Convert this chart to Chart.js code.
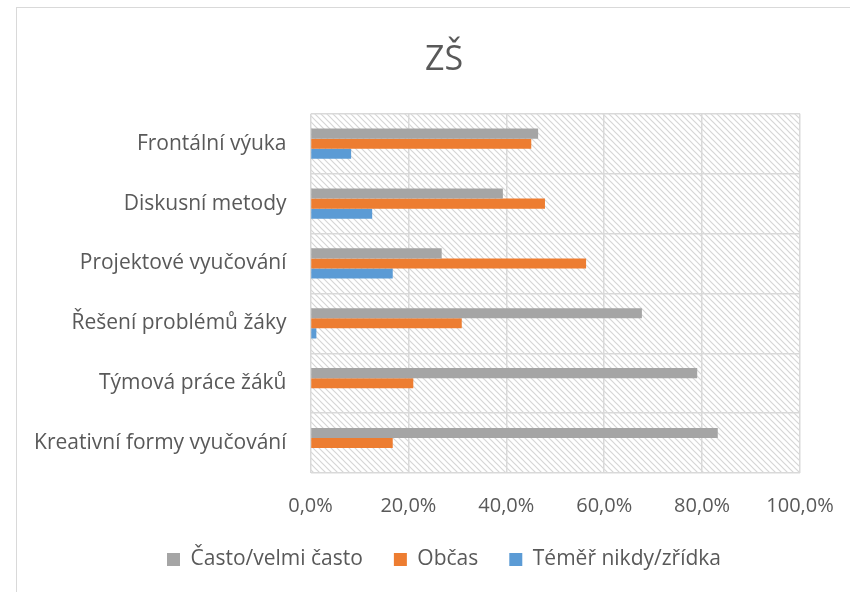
<!DOCTYPE html>
<html lang="cs">
<head>
    <meta charset="UTF-8">
    <title>ZŠ</title>
    <style>
        body { margin: 0; background: #fff; overflow: hidden; }
        #frame {
            position: absolute; left: 16px; top: 7px;
            width: 856px; height: 600px;
            border: 1.5px solid #d9d9d9;
            background: #fff;
        }
        #chart { display: block; }
    </style>
</head>
<body>
    <div id="frame">
        <canvas id="chart" width="854" height="600"></canvas>
    </div>

    <script src="https://cdn.jsdelivr.net/npm/chart.js"></script>
    <script>
        // data (percent)
        const categories = ['Frontální výuka', 'Diskusní metody', 'Projektové vyučování',
                            'Řešení problémů žáky', 'Týmová práce žáků', 'Kreativní formy vyučování'];
        const casto = [46.5, 39.3, 26.8, 67.7, 79.0, 83.2];
        const obcas = [45.1, 47.9, 56.3, 30.9, 21.0, 16.8];
        const zridka = [8.3, 12.6, 16.8, 1.2, 0, 0];
        const seriesNames = ['Často/velmi často', 'Občas', 'Téměř nikdy/zřídka'];
        const xTicks = [0, 20, 40, 60, 80, 100];

        const textColor = '#595959';
        const fontFam = "'Open Sans', 'Liberation Sans', sans-serif";

        // hatched plot background
        function makeHatch() {
            const c = document.createElement('canvas');
            c.width = 6; c.height = 6;
            const g = c.getContext('2d');
            g.strokeStyle = '#d6d6d6';
            g.lineWidth = 1.2;
            g.beginPath();
            g.moveTo(-1, -1); g.lineTo(7, 7);
            g.moveTo(-1, 5); g.lineTo(1, 7);
            g.moveTo(5, -1); g.lineTo(7, 1);
            g.stroke();
            return c;
        }

        const hatchPlugin = {
            id: 'hatch',
            beforeDraw(chart) {
                const a = chart.chartArea;
                const ctx = chart.ctx;
                ctx.save();
                ctx.fillStyle = ctx.createPattern(makeHatch(), 'repeat');
                ctx.fillRect(a.left, a.top, a.right - a.left, a.bottom - a.top);
                ctx.restore();
            }
        };

        const ctx = document.getElementById('chart').getContext('2d');
        new Chart(ctx, {
            type: 'bar',
            data: {
                labels: categories,
                datasets: [
                    { label: seriesNames[0], data: casto, backgroundColor: '#a5a5a5' },
                    { label: seriesNames[1], data: obcas, backgroundColor: '#ed7d31' },
                    { label: seriesNames[2], data: zridka, backgroundColor: '#5b9bd5' }
                ]
            },
            options: {
                indexAxis: 'y',
                responsive: false,
                animation: false,
                datasets: {
                    bar: { barPercentage: 1, categoryPercentage: 0.505, borderWidth: 0 }
                },
                layout: { padding: { left: 0, right: 0, top: 0, bottom: 28 } },
                plugins: {
                    title: {
                        display: true,
                        text: 'ZŠ',
                        color: textColor,
                        font: { family: fontFam, size: 34, weight: 'normal' },
                        padding: { top: 32, bottom: 33 }
                    },
                    legend: {
                        position: 'bottom',
                        labels: {
                            color: textColor,
                            font: { family: fontFam, size: 21 },
                            boxWidth: 13,
                            boxHeight: 13,
                            padding: 31
                        }
                    },
                    tooltip: { enabled: false }
                },
                scales: {
                    x: {
                        min: 0,
                        max: 100,
                        afterBuildTicks(scale) {
                            scale.ticks = xTicks.map(v => ({ value: v }));
                        },
                        afterFit(scale) { scale.height = 45; },
                        ticks: {
                            color: textColor,
                            font: { family: fontFam, size: 20 },
                            padding: 21,
                            callback: v => v.toFixed(1).replace('.', ',') + '%'
                        },
                        grid: { color: '#d9d9d9', lineWidth: 1.5, drawTicks: false },
                        border: { display: false }
                    },
                    y: {
                        afterFit(scale) { scale.width = 293.5; },
                        ticks: {
                            color: textColor,
                            font: { family: fontFam, size: 21 },
                            padding: 24
                        },
                        grid: { color: '#d9d9d9', lineWidth: 1.5, drawTicks: false },
                        border: { display: false }
                    },
                    // empty right-hand spacer so the plot ends where the reference does
                    spacer: {
                        type: 'category',
                        axis: 'y',
                        position: 'right',
                        afterFit(scale) { scale.width = 71; },
                        ticks: { display: false },
                        grid: { display: false },
                        border: { display: false }
                    }
                }
            },
            plugins: [hatchPlugin]
        });
    </script>
</body>
</html>
